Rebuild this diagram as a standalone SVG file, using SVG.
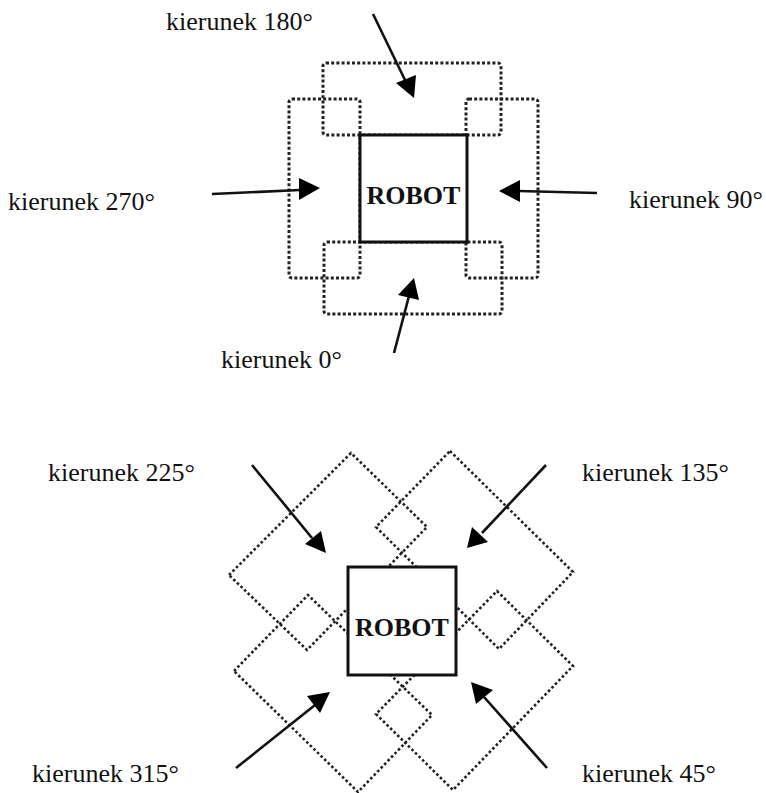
<svg xmlns="http://www.w3.org/2000/svg" width="766" height="793" viewBox="0 0 766 793">
<style>
text{font-family:"Liberation Serif","Times New Roman",serif;fill:#111}
.l{font-size:26px}
.r{font-size:26px;font-weight:bold;text-anchor:middle}
.d{fill:none;stroke:#222;stroke-width:3;stroke-dasharray:3 2.2}
.m{fill:none;stroke:#222;stroke-width:2.6;stroke-dasharray:2.6 2.4}
.b{fill:#fff;stroke:#111;stroke-width:3}
.c{fill:none;stroke:#111;stroke-width:2.6}
.h{fill:#000;stroke:none}
</style>
<g id="upper-zones">
<rect class="d" x="323" y="63" width="178" height="72" rx="3"/>
<rect class="d" x="289" y="99" width="71" height="179" rx="3"/>
<rect class="d" x="466" y="99" width="72" height="179" rx="3"/>
<rect class="d" x="324" y="242" width="178" height="72" rx="3"/>
</g>
<g id="lower-zones">
<polygon class="m" points="229,575 351,453 427,527 307,650"/>
<polygon class="m" points="450,451 573,572 499,649 376,527"/>
<polygon class="m" points="234,671 308,595 432,715 358,792"/>
<polygon class="m" points="497,591 573,666 453,790 376,714"/>
</g>
<g id="robot-upper">
<rect class="b" x="360" y="135" width="107" height="107"/>
<text class="r" x="413.500" y="204">ROBOT</text>
</g>
<g id="robot-lower">
<rect class="b" x="348" y="567" width="108" height="108"/>
<text class="r" x="402" y="636">ROBOT</text>
</g>
<g id="connectors">
<line class="c" x1="373" y1="14" x2="405" y2="80"/><polygon class="h" points="414,98 396,83 416,75"/>
<line class="c" x1="212" y1="194" x2="300" y2="190"/><polygon class="h" points="320,188 299,178 299,200"/>
<line class="c" x1="597" y1="193" x2="518" y2="191"/><polygon class="h" points="499,191 520,180 520,202"/>
<line class="c" x1="394" y1="353" x2="409" y2="296"/><polygon class="h" points="414,278 398,295 419,300"/>
<line class="c" x1="252" y1="465" x2="312" y2="538"/><polygon class="h" points="326,553 305,544 321,531"/>
<line class="c" x1="546" y1="465" x2="482" y2="533"/><polygon class="h" points="467,548 472,527 488,542"/>
<line class="c" x1="236" y1="768" x2="315" y2="705"/><polygon class="h" points="330,692 307,696 320,713"/>
<line class="c" x1="547" y1="768" x2="484" y2="697"/><polygon class="h" points="471,682 476,704 493,690"/>
</g>
<g id="labels">
<text class="l" x="166" y="30">kierunek 180°</text>
<text class="l" x="8" y="210">kierunek 270°</text>
<text class="l" x="629" y="208">kierunek 90°</text>
<text class="l" x="221" y="368">kierunek 0°</text>
<text class="l" x="48" y="481">kierunek 225°</text>
<text class="l" x="582" y="481">kierunek 135°</text>
<text class="l" x="32" y="782">kierunek 315°</text>
<text class="l" x="582" y="782">kierunek 45°</text>
</g>
</svg>
